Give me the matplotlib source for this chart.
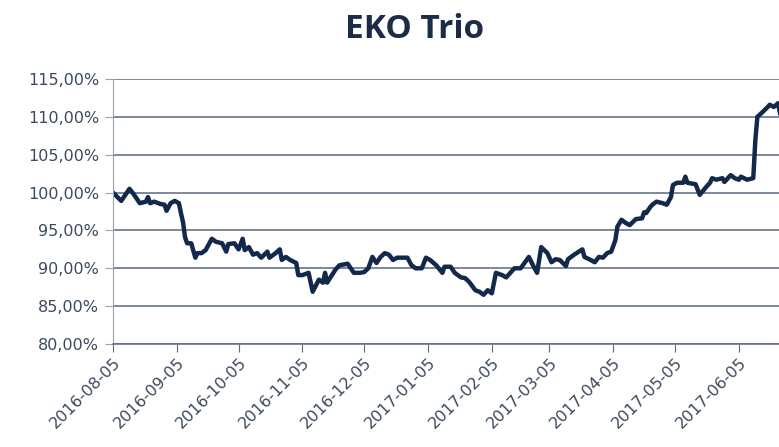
import matplotlib
matplotlib.use("Agg")
import matplotlib.pyplot as plt
import matplotlib.dates as mdates
import matplotlib.ticker as mticker
import pandas as pd

# Data
start_date = "2016-08-05"
day_offsets = [0, 4, 8, 10, 13, 16, 17, 18, 20, 23, 25, 26, 28, 30, 32, 33, 34, 35, 36, 38,
               40, 41, 43, 45, 48, 50, 53, 55, 56, 59, 61, 63, 64, 66, 68, 70, 72, 75, 76, 79,
               81, 82, 84, 86, 89, 90, 92, 95, 97, 100, 102, 103, 104, 108, 110, 114, 117, 120,
               122, 124, 126, 128, 130, 132, 134, 136, 138, 143, 145, 147, 150, 152, 154, 157,
               160, 161, 164, 166, 169, 171, 173, 176, 178, 180, 182, 184, 186, 189, 191, 193,
               195, 198, 202, 204, 206, 208, 211, 213, 215, 217, 220, 221, 224, 228, 229, 232,
               234, 236, 238, 240, 242, 244, 245, 247, 249, 251, 254, 257, 258, 259, 261, 262,
               264, 267, 269, 271, 272, 274, 277, 278, 279, 283, 285, 288, 290, 291, 293, 296,
               297, 300, 302, 304, 305, 308, 311, 312, 313, 315, 318, 319, 321, 323, 324]
values = [100.0, 98.9, 100.5, 99.8, 98.6, 98.8, 99.4, 98.6, 98.8, 98.5, 98.4, 97.6, 98.6, 98.9,
          98.6, 97.3, 96.1, 94.1, 93.3, 93.3, 91.4, 92.0, 92.0, 92.4, 93.9, 93.5, 93.3, 92.2,
          93.2, 93.3, 92.5, 93.9, 92.4, 92.8, 91.8, 92.0, 91.4, 92.2, 91.4, 92.0, 92.5, 91.1,
          91.5, 91.1, 90.7, 89.1, 89.1, 89.4, 86.9, 88.5, 88.1, 89.4, 88.1, 89.8, 90.4, 90.6,
          89.4, 89.4, 89.5, 90.0, 91.5, 90.7, 91.5, 92.0, 91.8, 91.1, 91.4, 91.4, 90.4, 90.0,
          90.0, 91.4, 91.1, 90.4, 89.4, 90.2, 90.2, 89.4, 88.8, 88.7, 88.2, 87.1, 86.9, 86.5,
          87.1, 86.7, 89.4, 89.1, 88.8, 89.4, 90.0, 90.0, 91.5, 90.4, 89.4, 92.8, 92.0, 90.8,
          91.2, 91.1, 90.3, 91.2, 91.8, 92.5, 91.5, 91.1, 90.8, 91.5, 91.4, 92.0, 92.2, 93.7,
          95.5, 96.4, 96.0, 95.7, 96.5, 96.6, 97.4, 97.3, 98.1, 98.4, 98.8, 98.6, 98.4, 99.4,
          101.0, 101.3, 101.3, 102.1, 101.3, 101.1, 99.7, 100.7, 101.3, 101.9, 101.7, 101.9,
          101.4, 102.3, 101.9, 101.7, 102.1, 101.7, 101.9, 106.9, 110.0, 110.5, 111.3, 111.6,
          111.3, 111.8, 110.5]

dates = pd.Timestamp(start_date) + pd.to_timedelta(day_offsets, unit="D")

navy = "#13294b"
grid_col = "#5a6a80"
text_col = "#3b4a5e"

fig = plt.figure(figsize=(7.79, 4.47), dpi=100)
ax = fig.add_axes([113 / 779, 1 - 344 / 447, 1 - 113 / 779, (344 - 79) / 447])

ax.plot(dates, values, color=navy, lw=3.2, solid_joinstyle="round")

ax.set_ylim(80, 115)
ax.set_xlim(pd.Timestamp(start_date), pd.Timestamp(start_date) + pd.Timedelta(days=323.5))
ax.yaxis.set_major_locator(mticker.MultipleLocator(5))
ax.yaxis.set_major_formatter(
    mticker.FuncFormatter(lambda v, p: f"{v:.2f}%".replace(".", ",")))
ax.xaxis.set_major_locator(mdates.MonthLocator(bymonthday=5))
ax.xaxis.set_major_formatter(mdates.DateFormatter("%Y-%m-%d"))

ax.grid(axis="y", color=grid_col, lw=1.1)
ax.set_axisbelow(True)
for side in ["top", "right"]:
    ax.spines[side].set_visible(False)
ax.spines["left"].set_color("#9aa3ae")
ax.spines["bottom"].set_color(grid_col)
ax.spines["bottom"].set_linewidth(1.1)

ax.tick_params(axis="y", length=6, color="#9aa3ae", labelsize=11.5, labelcolor=text_col, pad=4)
ax.tick_params(axis="x", length=6, color=grid_col, labelsize=11.5, labelcolor=text_col, pad=2)
for lbl in ax.get_xticklabels():
    lbl.set_rotation(45)
    lbl.set_ha("right")
    lbl.set_rotation_mode("anchor")

fig.text(415 / 779, 1 - 30 / 447, "EKO Trio", ha="center", va="center",
         fontsize=24, fontweight="bold", color="#1c2c46", family="Open Sans")

fig.savefig("out.png", dpi=100)
